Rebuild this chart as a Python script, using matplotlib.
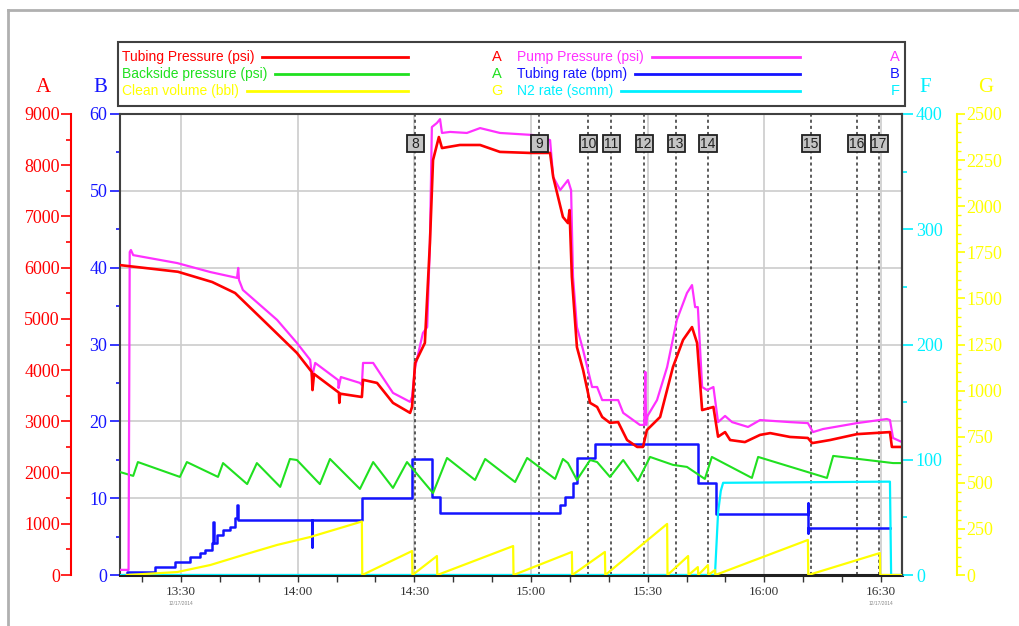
import matplotlib
matplotlib.use('Agg')
import matplotlib.pyplot as plt
import matplotlib.transforms as mtransforms
from matplotlib.lines import Line2D
from matplotlib.patches import Rectangle
from matplotlib.ticker import MultipleLocator, FuncFormatter

# ---------------------------------------------------------------------------
# Data (time = minutes after 13:00)
# ---------------------------------------------------------------------------
tp_t = [14.3, 29.2, 38.0, 43.9, 51.6, 59.8, 63.6, 63.8, 64.2, 70.6, 70.7, 70.9,
        76.5, 76.8, 80.4, 84.5, 88.9, 89.4, 90.2, 92.7, 94.0, 94.8, 96.3, 97.1,
        101.7, 106.9, 112.0, 119.7, 124.9, 125.7, 128.2, 129.5, 129.9, 130.5,
        131.8, 133.4, 135.2, 137.0, 138.3, 140.3, 142.4, 144.7, 147.3, 148.8,
        149.8, 153.2, 156.5, 159.1, 161.4, 162.7, 164.0, 166.9, 168.1, 169.9,
        171.2, 175.0, 178.9, 181.5, 186.6, 191.2, 192.3, 196.9, 203.8, 212.3,
        212.8, 215.4]
tp_psi = [6050, 5920, 5720, 5505, 4940, 4335, 3965, 3610, 3925, 3560, 3360, 3540,
          3475, 3810, 3750, 3360, 3165, 3280, 4140, 4530, 6480, 8100, 8550, 8335,
          8395, 8395, 8260, 8240, 8240, 7770, 6990, 6870, 7125, 5820,
          4450, 4000, 3360, 3280, 3085, 2970, 2985, 2635, 2500, 2500,
          2830, 3085, 4060, 4590, 4840, 4530, 3220, 3280, 2700, 2790,
          2635, 2595, 2735, 2770, 2695, 2675, 2575, 2635, 2750, 2790,
          2500, 2500]

pp_t = [14.3, 16.5, 16.8, 17.1, 17.7, 29.0, 37.5, 44.4, 44.7, 44.9, 45.9, 54.7,
        59.8, 63.2, 63.7, 64.5, 70.4, 70.5, 71.1, 76.0, 76.5, 76.8, 79.4, 84.5,
        88.9, 89.4, 90.2, 92.2, 93.3, 94.0, 94.5, 95.8, 96.6, 97.1, 99.2, 103.5,
        106.9, 112.0, 120.5, 124.9, 125.7, 127.5, 129.5, 130.3, 130.8, 131.8,
        133.4, 135.7, 137.0, 138.3, 142.4, 143.7, 148.0, 149.1, 149.4, 149.6,
        149.8, 152.4, 155.0, 157.5, 160.1, 161.4, 162.2, 162.9, 164.0, 165.3,
        166.9, 168.1, 169.9, 171.7, 175.8, 178.9, 186.6, 191.2, 192.5, 195.1,
        203.8, 211.5, 212.3, 213.1, 215.4]
pp_psi = [100, 100, 6305, 6345, 6245, 6090, 5915, 5800, 5995, 5760, 5565, 4980,
          4530, 4200, 3865, 4140, 3805, 3650, 3865, 3750, 3710, 4140, 4140, 3555,
          3380, 3475, 4060, 4725, 4840, 6480, 8745, 8825, 8900, 8630, 8650, 8630,
          8725, 8630, 8590, 8490, 7770, 7515, 7710, 7515, 5820, 4840,
          4390, 3670, 3670, 3415, 3415, 3165, 2930, 2930, 3965, 2930,
          3085, 3415, 4060, 4980, 5505, 5660, 5230, 5230, 3670, 3610,
          3670, 2985, 3105, 2985, 2890, 3025, 2985, 2965, 2790, 2850,
          2965, 3045, 3025, 2675, 2595]

bp_t = [14.3, 17.7, 18.9, 29.7, 31.5, 39.5, 40.8, 47.0, 49.5, 55.5, 58.0, 59.8,
        65.7, 68.3, 76.0, 79.4, 84.5, 88.1, 94.8, 98.4, 105.6, 108.2, 115.9, 119.0,
        126.2, 128.2, 129.5, 131.8, 135.2, 137.0, 140.3, 143.7, 147.5, 150.6,
        156.5, 160.1, 164.7, 166.5, 176.8, 178.4, 196.1, 197.7, 213.1, 215.4]
bp_psi = [2010, 1935, 2205, 1915, 2205, 1915, 2185, 1775, 2185, 1720, 2265, 2245,
          1775, 2265, 1680, 2205, 1700, 2205, 1600, 2285, 1855, 2265, 1815, 2285,
          1875, 2265, 2185, 1855, 2245, 2205, 1915, 2245, 1835, 2305,
          2150, 2110, 1875, 2305, 1895, 2305, 1895, 2325, 2185, 2185]

# tubing rate is logged as steps (value holds until next time)
tr_t = [14.3, 16.0, 23.3, 28.5, 32.3, 34.9, 36.2, 38.0, 38.2, 38.4, 39.3, 40.8,
        42.6, 43.9, 44.4, 44.6, 63.6, 63.8, 76.5, 89.4, 94.6, 96.7, 127.5, 128.7,
        130.8, 131.8, 136.5, 163.0, 167.6, 191.1, 191.2, 191.3, 212.3]
tr_bpm = [0.0, 0.4, 1.0, 1.7, 2.3, 2.9, 3.3, 4.2, 6.9, 4.2, 5.2, 5.9,
          6.2, 7.4, 9.1, 7.2, 3.6, 7.2, 10.0, 15.1, 10.2, 8.1, 9.1, 10.2,
          12.0, 15.2, 17.1, 12.0, 7.9, 9.4, 5.5, 6.1, 6.1]

cv_t = [16.1, 29.0, 37.5, 45.9, 54.7, 63.2, 76.5, 76.6, 89.4, 89.5, 95.8, 95.9,
        115.4, 115.5, 130.5, 130.6, 139.0, 139.1, 155.0, 155.1, 160.4, 160.5,
        162.9, 163.0, 165.5, 165.6, 167.3, 167.4, 191.2, 191.3, 209.7, 209.8, 215.4]
cv_bbl = [0, 16, 54, 108, 163, 206, 290, 0, 130, 0, 103, 0,
          157, 0, 125, 0, 125, 0, 277, 0, 103, 0,
          43, 0, 54, 0, 27, 0, 190, 0, 119, 0, 0]

n2_t = [14.3, 167.3, 168.1, 168.8, 169.4, 212.3, 212.6, 215.4]
n2_scmm = [0, 0, 54, 73, 80, 81, 0, 0]

event_labels = ['8', '9', '10', '11', '12', '13', '14', '15', '16', '17']
event_t = [90.2, 122.1, 134.7, 140.6, 149.1, 157.3, 165.5, 192.0, 203.8, 209.5]

# ---------------------------------------------------------------------------
RED = '#ff0000'
MAG = '#ff30ff'
GREEN = '#20e020'
BLUE = '#1414ff'
YELLOW = '#ffff00'
CYAN = '#00f0ff'
FRAME = '#404040'

plt.rcParams['font.family'] = ['Liberation Serif', 'DejaVu Serif']
SANS = ['Liberation Sans', 'DejaVu Sans']

W, H = 1020, 626
fig = plt.figure(figsize=(W / 100, H / 100), dpi=100)


def fx(px):
    return px / W


def fy(py):
    return 1 - py / H


ax = fig.add_axes([fx(120), fy(575), (902 - 120) / W, (575 - 114) / H])
axA = ax.twinx()
axF = ax.twinx()
axG = ax.twinx()

ax.set_xlim(14.3, 215.4)

# main axes: tubing rate (B)
ax.set_ylim(0, 60)
ax.yaxis.set_major_locator(MultipleLocator(10))
ax.yaxis.set_minor_locator(MultipleLocator(5))
ax.tick_params(axis='y', which='both', colors=BLUE, direction='out', labelsize=13, pad=2)
ax.tick_params(axis='y', which='major', length=7, width=1.2)
ax.tick_params(axis='y', which='minor', length=3, width=1.2)
ax.xaxis.set_major_locator(MultipleLocator(30))
ax.xaxis.set_minor_locator(MultipleLocator(10))
ax.xaxis.set_major_formatter(FuncFormatter(lambda m, p: f"{13 + int(m) // 60}:{int(m) % 60:02d}"))
ax.tick_params(axis='x', which='both', direction='out', length=5, width=1,
               colors='#333333', labelsize=9.5, pad=3)
ax.grid(True, which='major', color='#cccccc', lw=1.2)
ax.set_axisbelow(True)
for s in ax.spines.values():
    s.set_color(FRAME)
    s.set_linewidth(1.5)
ax.spines['bottom'].set_linewidth(2.2)
ax.spines['bottom'].set_color('#202020')

# pressure axis (A) offset on the left
axA.set_ylim(0, 9000)
axA.spines['left'].set_position(('axes', -49 / 782))
axA.spines['left'].set_visible(True)
axA.spines['left'].set_color(RED)
axA.spines['left'].set_linewidth(1.5)
for k in ['right', 'top', 'bottom']:
    axA.spines[k].set_visible(False)
axA.yaxis.set_ticks_position('left')
axA.yaxis.set_label_position('left')
axA.yaxis.set_major_locator(MultipleLocator(1000))
axA.yaxis.set_minor_locator(MultipleLocator(500))
axA.tick_params(axis='y', which='both', colors=RED, direction='out', labelsize=13, pad=1)
axA.tick_params(axis='y', which='major', length=7, width=1.2)
axA.tick_params(axis='y', which='minor', length=3.5, width=1.2)

# N2 rate axis (F) on the frame edge
axF.set_ylim(0, 400)
for k in ['left', 'top', 'bottom']:
    axF.spines[k].set_visible(False)
axF.spines['right'].set_color(FRAME)
axF.spines['right'].set_linewidth(1.5)
axF.yaxis.set_major_locator(MultipleLocator(100))
axF.yaxis.set_minor_locator(MultipleLocator(50))
axF.tick_params(axis='y', which='both', colors=CYAN, direction='out', labelsize=13, pad=2)
axF.tick_params(axis='y', which='major', length=8, width=1.2)
axF.tick_params(axis='y', which='minor', length=3.5, width=1.2)

# clean volume axis (G) offset on the right
axG.set_ylim(0, 2500)
axG.spines['right'].set_position(('axes', (957 - 120) / 782))
axG.spines['right'].set_color(YELLOW)
axG.spines['right'].set_linewidth(1.5)
for k in ['left', 'top', 'bottom']:
    axG.spines[k].set_visible(False)
axG.yaxis.set_major_locator(MultipleLocator(250))
axG.yaxis.set_minor_locator(MultipleLocator(50))
axG.tick_params(axis='y', which='both', colors=YELLOW, direction='out', labelsize=13, pad=1)
axG.tick_params(axis='y', which='major', length=6, width=1.2)
axG.tick_params(axis='y', which='minor', length=3, width=1.0)

# event markers
for t in event_t:
    ax.axvline(t, color='#303030', lw=1.1, ls=(0, (2, 2)), zorder=1.5)
trans = mtransforms.blended_transform_factory(axG.transData, axG.transAxes)
for lab, t in zip(event_labels, event_t):
    axG.add_patch(Rectangle((t - 2.2, 0.918), 4.4, 0.036, transform=trans,
                            facecolor='#c4c4c4', edgecolor='#202020', lw=1.3,
                            zorder=6, clip_on=False))
    axG.text(t, 0.936, lab, transform=trans, ha='center', va='center',
             fontsize=10, family=SANS, color='#202020', zorder=7)

# series
ax.plot(tr_t, tr_bpm, color=BLUE, lw=1.8, drawstyle='steps-post')
axA.plot(bp_t, bp_psi, color=GREEN, lw=1.5)
axA.plot(pp_t, pp_psi, color=MAG, lw=1.6)
axA.plot(tp_t, tp_psi, color=RED, lw=1.9)
axF.plot(n2_t, n2_scmm, color=CYAN, lw=1.6)
axG.plot(cv_t, cv_bbl, color=YELLOW, lw=1.6)

# date stamps under first/last time labels
dtrans = mtransforms.blended_transform_factory(ax.transData, ax.transAxes)
for t in [30, 210]:
    ax.text(t, -0.062, '12/17/2014', transform=dtrans, ha='center', va='center',
            fontsize=3.5, color='#888888', family=SANS)

# axis letters
for txt, x, c in [('A', 43, RED), ('B', 100, BLUE), ('F', 925, CYAN), ('G', 986, YELLOW)]:
    fig.text(fx(x), fy(88), txt, color=c, fontsize=15, ha='center', va='center')

# legend box
fig.add_artist(Rectangle((fx(118), fy(106)), (905 - 118) / W, (106 - 42) / H,
                         transform=fig.transFigure, facecolor='white',
                         edgecolor=FRAME, lw=1.5))
renderer = fig.canvas.get_renderer()
legend_cols = [
    (122, 408, 497, ['Tubing Pressure (psi)', 'Backside pressure (psi)', 'Clean volume (bbl)'],
     [RED, GREEN, YELLOW], ['A', 'A', 'G']),
    (517, 800, 895, ['Pump Pressure (psi)', 'Tubing rate (bpm)', 'N2 rate (scmm)'],
     [MAG, BLUE, CYAN], ['A', 'B', 'F']),
]
rows_y = [57, 74, 91]
for x0, xend, xlet, labels, cols, lets in legend_cols:
    for lab, c, let, y in zip(labels, cols, lets, rows_y):
        t = fig.text(fx(x0), fy(y), lab, color=c, fontsize=10, family=SANS,
                     ha='left', va='center')
        bb = t.get_window_extent(renderer)
        fig.add_artist(Line2D([(bb.x1 + 8) / W, fx(xend)], [fy(y), fy(y)],
                              transform=fig.transFigure, color=c, lw=2))
        fig.text(fx(xlet), fy(y), let, color=c, fontsize=10.5, family=SANS,
                 ha='center', va='center')

# light outer frame of the screenshot
fig.add_artist(Line2D([fx(8), fx(8)], [fy(10), 0], transform=fig.transFigure,
                      color='#b0b0b0', lw=2))
fig.add_artist(Line2D([fx(8), 1], [fy(10), fy(10)], transform=fig.transFigure,
                      color='#b0b0b0', lw=2))

fig.savefig('out.png', dpi=100)
